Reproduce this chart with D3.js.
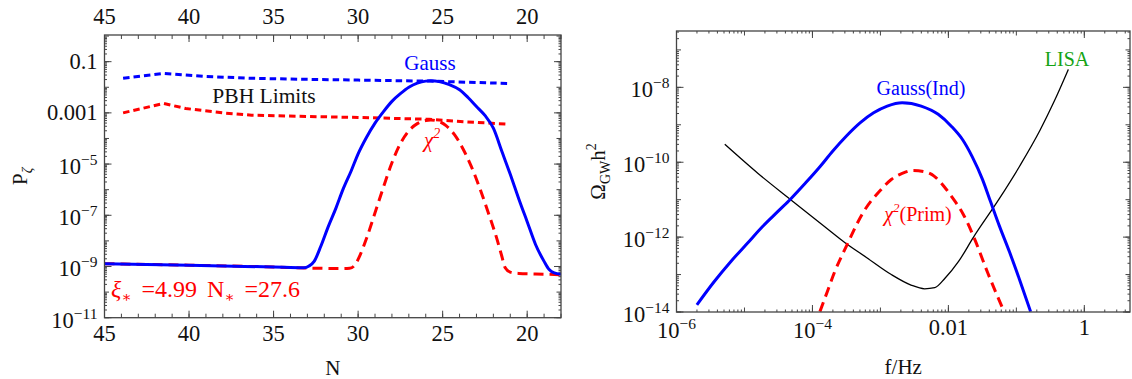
<!DOCTYPE html>
<html>
<head>
<meta charset="utf-8">
<script src="https://cdn.jsdelivr.net/npm/d3@7"></script>
<style>
  body { margin: 0; background: #fff; }
  svg { display: block; font-family: "Liberation Serif", "DejaVu Serif", serif; }
</style>
</head>
<body>
<div id="chart"></div>
<script>
// ---- left panel: P_zeta against e-folds N (values as log10) ----
const nGaussLimit   = [43.9, 41.5, 39.0, 36.3, 33.0, 30.0, 25.8, 21.1];
const pGaussLimit   = [-1.65, -1.46, -1.58, -1.65, -1.69, -1.72, -1.76, -1.85];

const nChiLimit     = [43.9, 41.5, 40.2, 38.0, 36.3, 33.0, 30.0, 27.0, 25.8, 23.7, 21.1];
const pChiLimit     = [-3.0, -2.63, -2.83, -3.0, -3.09, -3.14, -3.18, -3.23, -3.25, -3.35, -3.44];

const nGauss = [45, 40, 35, 33.2, 32.9, 32.6, 32.2, 31.8, 31.3, 30.9, 30.4, 30.0, 29.5, 29.0, 28.5,
                28.0, 27.5, 27.0, 26.5, 26.0, 25.7, 25.2, 24.6, 24.0, 23.5, 23.0, 22.5, 22.0, 21.5,
                21.0, 20.5, 20.0, 19.5, 19.0, 18.7, 18.4, 18.0];
const pGauss = [-8.89, -8.95, -9.02, -9.05, -8.98, -8.8, -8.2, -7.5, -6.7, -6.0, -5.25, -4.6, -3.95, -3.4, -2.95,
                -2.55, -2.25, -2.0, -1.84, -1.76, -1.75, -1.78, -1.9, -2.1, -2.4, -2.75, -3.1, -3.6, -4.5,
                -5.4, -6.35, -7.25, -8.15, -8.8, -9.12, -9.25, -9.3];

const nChi = [45, 40, 35, 33.0, 31.0, 30.5, 30.2, 30.0, 29.5, 29.0, 28.5, 28.0, 27.5, 27.0, 26.5,
              26.0, 25.7, 25.3, 24.8, 24.3, 23.8, 23.3, 22.8, 22.3, 21.8, 21.5, 21.3, 21.0, 20.5, 19.0, 18.0];
const pChi = [-8.89, -8.95, -9.02, -9.06, -9.08, -9.07, -8.95, -8.72, -7.9, -6.9, -5.9, -4.95, -4.2, -3.7, -3.42,
              -3.3, -3.28, -3.32, -3.5, -3.85, -4.4, -5.1, -5.95, -6.9, -7.9, -8.6, -9.05, -9.22, -9.27, -9.3, -9.32];

const leftXTicks = [45, 40, 35, 30, 25, 20];
const leftYTicks = [0.1, 0.001, 1e-5, 1e-7, 1e-9, 1e-11];
const leftYText  = ['0.1', '0.001', '10^−5', '10^−7', '10^−9', '10^−11'];

// ---- right panel: Omega_GW h^2 against f (both as log10) ----
const fGaussInd = [-5.70, -5.45, -5.2, -4.95, -4.73, -4.5, -4.32, -4.1, -3.89, -3.7, -3.5, -3.3, -3.1, -2.9,
                   -2.68, -2.4, -2.15, -1.95, -1.79, -1.65, -1.5, -1.38, -1.25, -1.10, -0.95, -0.79];
const oGaussInd = [-13.81, -13.2, -12.65, -12.15, -11.71, -11.3, -10.98, -10.55, -10.12, -9.7, -9.3, -8.95, -8.68, -8.5,
                   -8.41, -8.5, -8.72, -9.05, -9.4, -9.85, -10.45, -11.05, -11.7, -12.4, -13.15, -13.99];

const fChiPrim = [-3.89, -3.78, -3.68, -3.49, -3.26, -2.99, -2.84, -2.68, -2.52, -2.36, -2.21, -2.05,
                  -1.92, -1.79, -1.63, -1.42, -1.18];
const oChiPrim = [-13.99, -13.45, -12.96, -12.2, -11.36, -10.73, -10.46, -10.3, -10.22, -10.25, -10.37, -10.68,
                  -11.0, -11.36, -11.98, -12.96, -13.99];

const fLisa = [-5.29, -4.8, -4.32, -3.8, -3.52, -3.2, -2.84, -2.55, -2.35, -2.2, -2.05, -1.85, -1.63,
               -1.26, -0.95, -0.65, -0.45, -0.235];
const oLisa = [-9.52, -10.3, -11.0, -11.75, -12.15, -12.55, -13.0, -13.28, -13.38, -13.35, -13.1, -12.65, -12.0,
               -11.0, -10.1, -9.14, -8.4, -7.52];

const rightXTicks = [1e-6, 1e-4, 0.01, 1];
const rightXText  = ['10^−6', '10^−4', '0.01', '1'];
const rightYTicks = [1e-8, 1e-10, 1e-12, 1e-14];
const rightYText  = ['10^−8', '10^−10', '10^−12', '10^−14'];

const W = 1132, H = 379;
const FRAME = '#444';
const BLUE = '#0000ff', RED = '#ff0000', GREEN = '#14a314';

const svg = d3.select('#chart').append('svg')
    .attr('width', W)
    .attr('height', H);

const left  = { x0: 104.5, x1: 561, y0: 35, y1: 317.7 };
const right = { x0: 676.5, x1: 1130, y0: 31, y1: 312 };

const xL = d3.scaleLinear().domain([45, 18]).range([left.x0, left.x1]);
const yL = d3.scaleLog().domain([1e-11, 1.1]).range([left.y1, left.y0]);
const xR = d3.scaleLog().domain([1e-6, 4.7]).range([right.x0, right.x1]);
const yR = d3.scaleLog().domain([1e-14, 3.2e-7]).range([right.y1, right.y0]);

// minor ticks of a log scale (k * 10^n inside the domain)
function logMinor(scale) {
    const [lo, hi] = scale.domain();
    const out = [];
    for (let e = Math.floor(Math.log10(lo)); e <= Math.ceil(Math.log10(hi)); e++) {
        for (let k = 2; k <= 9; k++) {
            const v = k * Math.pow(10, e);
            if (v >= lo && v <= hi) out.push(v);
        }
    }
    return out;
}

function decades(scale) {
    const [lo, hi] = scale.domain();
    return d3.range(Math.ceil(Math.log10(lo)), Math.floor(Math.log10(hi)) + 1).map(e => Math.pow(10, e));
}

function xTicks(g, sc, vals, len, box) {
    [[box.y1, -1], [box.y0, 1]].forEach(([y, s]) => {
        g.append('g').selectAll('line')
            .data(vals)
            .join('line')
            .attr('x1', d => sc(d)).attr('x2', d => sc(d))
            .attr('y1', y).attr('y2', y + s * len)
            .attr('stroke', FRAME).attr('stroke-width', 1);
    });
}

function yTicks(g, sc, vals, len, box) {
    [[box.x0, 1], [box.x1, -1]].forEach(([x, s]) => {
        g.append('g').selectAll('line')
            .data(vals)
            .join('line')
            .attr('y1', d => sc(d)).attr('y2', d => sc(d))
            .attr('x1', x).attr('x2', x + s * len)
            .attr('stroke', FRAME).attr('stroke-width', 1);
    });
}

// text like "10^−5" gets a raised exponent
function tickText(g, str, x, y, anchor) {
    const parts = str.split('^');
    const t = g.append('text')
        .attr('x', x)
        .attr('y', parts.length > 1 ? y + 2.5 : y)
        .attr('text-anchor', anchor)
        .attr('font-size', 22.5)
        .attr('fill', '#111');
    t.append('tspan').text(parts[0]);
    if (parts.length > 1) {
        t.append('tspan').attr('dy', -9).attr('font-size', 15.5).text(parts[1]);
    }
}

function frame(g, box) {
    g.append('rect')
        .attr('x', box.x0).attr('y', box.y0)
        .attr('width', box.x1 - box.x0).attr('height', box.y1 - box.y0)
        .attr('fill', 'none').attr('stroke', FRAME).attr('stroke-width', 1.3);
}

function clip(id, box) {
    svg.append('clipPath').attr('id', id)
        .append('rect')
        .attr('x', box.x0).attr('y', box.y0)
        .attr('width', box.x1 - box.x0).attr('height', box.y1 - box.y0);
}

// xs may be linear values or log10 values (xLog), ys are always log10
function drawLine(g, xs, ys, x, y, style, xLog, curve) {
    const data = d3.zip(xs, ys).map(([a, b]) => [xLog ? Math.pow(10, a) : a, Math.pow(10, b)]);
    g.append('path')
        .datum(data)
        .attr('fill', 'none')
        .attr('stroke', style.color)
        .attr('stroke-width', style.width)
        .attr('stroke-dasharray', style.dash || null)
        .attr('d', d3.line().x(d => x(d[0])).y(d => y(d[1])).curve(curve || d3.curveMonotoneX));
}

// ---------------- left panel ----------------
const gl = svg.append('g');
clip('clipL', left);

xTicks(gl, xL, d3.range(18, 46), 4, left);
xTicks(gl, xL, leftXTicks, 7, left);
yTicks(gl, yL, logMinor(yL), 2.5, left);
yTicks(gl, yL, decades(yL), 4.5, left);
yTicks(gl, yL, leftYTicks, 7, left);

leftXTicks.forEach(v => {
    tickText(gl, String(v), xL(v), 341, 'middle');
    tickText(gl, String(v), xL(v), 23.5, 'middle');
});
leftYTicks.forEach((v, i) => tickText(gl, leftYText[i], left.x0 - 7, yL(v) + 7.5, 'end'));

const pl = gl.append('g').attr('clip-path', 'url(#clipL)');
drawLine(pl, nGaussLimit, pGaussLimit, xL, yL, { color: BLUE, width: 3, dash: '6.5,4' }, false, d3.curveLinear);
drawLine(pl, nChiLimit, pChiLimit, xL, yL, { color: RED, width: 3, dash: '6.5,4' }, false, d3.curveLinear);
drawLine(pl, nChi, pChi, xL, yL, { color: RED, width: 3, dash: '10,6' });
drawLine(pl, nGauss, pGauss, xL, yL, { color: BLUE, width: 3 });

frame(gl, left);

gl.append('text').attr('x', 430).attr('y', 70).attr('text-anchor', 'middle')
    .attr('font-size', 21).attr('fill', BLUE).text('Gauss');
gl.append('text').attr('x', 264).attr('y', 103).attr('text-anchor', 'middle')
    .attr('font-size', 21.5).attr('fill', '#111').text('PBH Limits');

const chiL = gl.append('text').attr('x', 432).attr('y', 147).attr('text-anchor', 'middle')
    .attr('font-size', 21).attr('fill', RED);
chiL.append('tspan').attr('font-style', 'italic').text('χ');
chiL.append('tspan').attr('dy', -9).attr('font-size', 14).attr('font-style', 'italic').text('2');

const xi = gl.append('text').attr('x', 111).attr('y', 297)
    .attr('font-size', 24).attr('word-spacing', 4).attr('fill', RED);
xi.append('tspan').attr('font-style', 'italic').text('ξ');
xi.append('tspan').attr('dy', 5).attr('font-size', 15).text('∗');
xi.append('tspan').attr('dy', -5).text(' =4.99 N');
xi.append('tspan').attr('dy', 5).attr('font-size', 15).text('∗');
xi.append('tspan').attr('dy', -5).text(' =27.6');

gl.append('text').attr('x', (left.x0 + left.x1) / 2).attr('y', 375).attr('text-anchor', 'middle')
    .attr('font-size', 21).attr('fill', '#111').text('N');

const pz = gl.append('text')
    .attr('transform', `translate(27,${(left.y0 + left.y1) / 2}) rotate(-90)`)
    .attr('text-anchor', 'middle').attr('font-size', 21).attr('fill', '#111');
pz.append('tspan').text('P');
pz.append('tspan').attr('dy', 5).attr('font-size', 14).attr('font-style', 'italic').text('ζ');

// ---------------- right panel ----------------
const gr = svg.append('g');
clip('clipR', right);

xTicks(gr, xR, logMinor(xR), 2.5, right);
xTicks(gr, xR, decades(xR), 4.5, right);
xTicks(gr, xR, rightXTicks, 7, right);
yTicks(gr, yR, logMinor(yR), 2.5, right);
yTicks(gr, yR, decades(yR), 4.5, right);
yTicks(gr, yR, rightYTicks, 7, right);

rightXTicks.forEach((v, i) => tickText(gr, rightXText[i], xR(v), 335, 'middle'));
rightYTicks.forEach((v, i) => tickText(gr, rightYText[i], right.x0 - 7, yR(v) + 7.5, 'end'));

const pr = gr.append('g').attr('clip-path', 'url(#clipR)');
drawLine(pr, fLisa, oLisa, xR, yR, { color: '#000', width: 1.3 }, true);
drawLine(pr, fChiPrim, oChiPrim, xR, yR, { color: RED, width: 3, dash: '10,6' }, true);
drawLine(pr, fGaussInd, oGaussInd, xR, yR, { color: BLUE, width: 3 }, true);

frame(gr, right);

gr.append('text').attr('x', 921).attr('y', 95).attr('text-anchor', 'middle')
    .attr('font-size', 20).attr('fill', BLUE).text('Gauss(Ind)');
gr.append('text').attr('x', 1067).attr('y', 66).attr('text-anchor', 'middle')
    .attr('font-size', 20).attr('fill', GREEN).text('LISA');

const chiR = gr.append('text').attr('x', 918).attr('y', 221).attr('text-anchor', 'middle')
    .attr('font-size', 20).attr('fill', RED);
chiR.append('tspan').attr('font-style', 'italic').text('χ');
chiR.append('tspan').attr('dy', -9).attr('font-size', 13).attr('font-style', 'italic').text('2');
chiR.append('tspan').attr('dy', 9).text('(Prim)');

gr.append('text').attr('x', (right.x0 + right.x1) / 2).attr('y', 374).attr('text-anchor', 'middle')
    .attr('font-size', 21).attr('fill', '#111').text('f/Hz');

const om = gr.append('text')
    .attr('transform', `translate(605,${(right.y0 + right.y1) / 2}) rotate(-90)`)
    .attr('text-anchor', 'middle').attr('font-size', 21).attr('fill', '#111');
om.append('tspan').text('Ω');
om.append('tspan').attr('dy', 5).attr('font-size', 14).text('GW');
om.append('tspan').attr('dy', -5).text('h');
om.append('tspan').attr('dy', -9).attr('font-size', 14).text('2');
</script>
</body>
</html>
